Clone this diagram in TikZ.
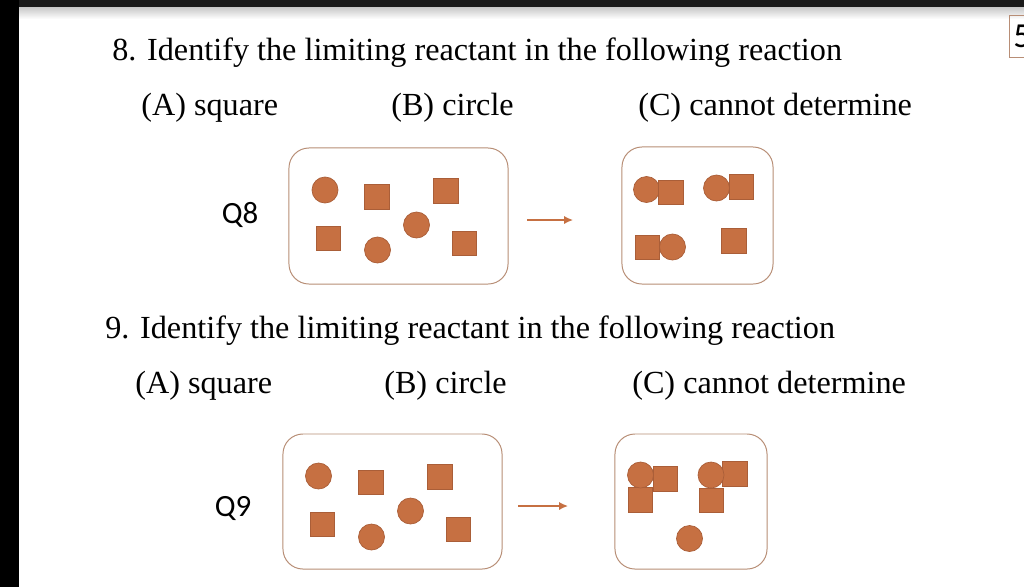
\documentclass[tikz,border=0pt]{standalone}
\usepackage{fontspec}
\setmainfont{Liberation Serif}
\newfontfamily\calibri{Carlito}
\usetikzlibrary{arrows.meta}
\definecolor{chem}{RGB}{198,112,66}
\definecolor{chemline}{RGB}{170,94,56}
\definecolor{frame}{RGB}{184,142,118}
\tikzset{
  sq/.style={rectangle,draw=chemline,fill=chem,minimum size=0.61cm,inner sep=0pt,line width=0.5pt},
  circ/.style={circle,draw=chemline,fill=chem,minimum size=0.65cm,inner sep=0pt,line width=0.5pt},
  box/.style={rectangle,rounded corners=0.5cm,draw=frame,line width=0.7pt,inner sep=0pt},
  question/.style={anchor=base west,inner sep=0pt,font=\fontsize{22.9}{26}\selectfont},
  qlabel/.style={inner sep=0pt,font=\calibri\fontsize{22}{26}\selectfont},
  react/.style={draw=chem,line width=1pt,-{Latex[length=2.2mm,width=2mm]}}
}
\begin{document}
\begin{tikzpicture}[x=0.025cm,y=-0.025cm]
	\useasboundingbox (0,0) rectangle (1024,587);
	\clip (0,0) rectangle (1024,587);
	% screen edges
	\fill[white] (0,0) rectangle (1024,587);
	\shade[top color=black!22,bottom color=white] (19,7) rectangle (1024,19);
	\fill[black!90] (0,0) rectangle (1024,7);
	\fill[black] (0,0) rectangle (19,587);
	\node[draw=frame,line width=0.7pt,minimum width=1cm,minimum height=1.05cm,anchor=north west,inner sep=0pt] (page) at (1009,15) {};
	\node[anchor=west,inner sep=0pt,font=\calibri\fontsize{25}{28}\selectfont] (pnum) at (1013,36) {5};

	% question 8
	\node[question] (t8) at (112,60) {8. Identify the limiting reactant in the following reaction};
	\node[question] (a8) at (141,115) {(A) square};
	\node[question] (b8) at (391,115) {(B) circle};
	\node[question] (c8) at (638,115) {(C) cannot determine};
	\node[qlabel] (q8) at (240,215) {Q8};
	\node[box,minimum width=5.475cm,minimum height=3.4cm] (in8) at (398.5,216) {};
	\node[box,minimum width=3.775cm,minimum height=3.425cm] (out8) at (697.5,215.5) {};
	\foreach \x/\y [count=\i] in {325/190, 377.5/250, 416.5/225, 646.5/189.5, 716.5/188, 672.5/247}
		\node[circ] (c8\i) at (\x,\y) {};
	\foreach \x/\y [count=\i] in {377/197, 446/191, 328.5/238.5, 464.5/243.5, 671/192.5, 741.5/187, 647.5/247.5, 734/241}
		\node[sq] (s8\i) at (\x,\y) {};
	\coordinate (r8s) at (527,220);
	\coordinate (r8e) at (573,220);
	\draw[react] (r8s) -- (r8e);

	% question 9
	\node[question] (t9) at (105,338) {9. Identify the limiting reactant in the following reaction};
	\node[question] (a9) at (135,393) {(A) square};
	\node[question] (b9) at (384,393) {(B) circle};
	\node[question] (c9) at (632,393) {(C) cannot determine};
	\node[qlabel] (q9) at (233,508) {Q9};
	\node[box,minimum width=5.475cm,minimum height=3.375cm] (in9) at (392.5,501.5) {};
	\node[box,minimum width=3.8cm,minimum height=3.375cm] (out9) at (691,501.5) {};
	\foreach \x/\y [count=\i] in {371/482.5, 440/477, 322.5/524.5, 458.5/529.5, 665.5/479, 640.5/500, 735/474, 711.5/500.5}
		\node[sq] (s9\i) at (\x,\y) {};
	\foreach \x/\y [count=\i] in {318.5/476, 371.5/537, 410.5/511, 640.5/475, 711/475, 689.5/538.5}
		\node[circ] (c9\i) at (\x,\y) {};
	\coordinate (r9s) at (518,506);
	\coordinate (r9e) at (568,506);
	\draw[react] (r9s) -- (r9e);
\end{tikzpicture}
\end{document}
